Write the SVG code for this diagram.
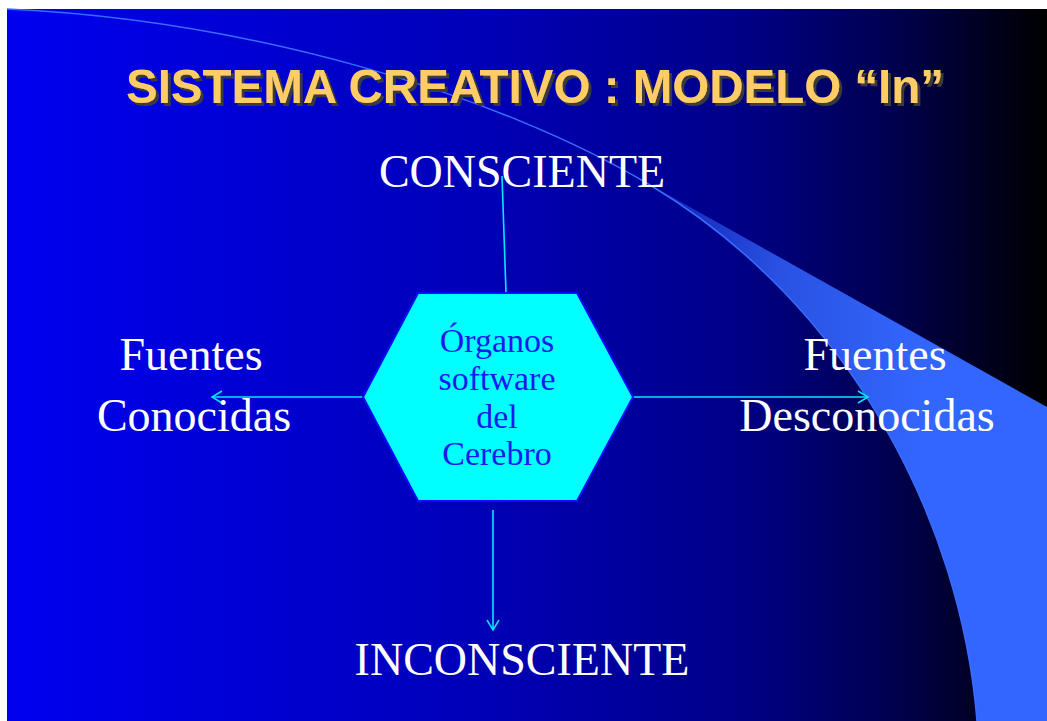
<svg xmlns="http://www.w3.org/2000/svg" width="1047" height="721" viewBox="0 0 1047 721">
  <defs>
    <linearGradient id="bg" x1="7" y1="0" x2="1047" y2="0" gradientUnits="userSpaceOnUse">
      <stop offset="0" stop-color="#0000f0"/>
      <stop offset="0.45" stop-color="#0000b8"/>
      <stop offset="0.7" stop-color="#000088"/>
      <stop offset="0.85" stop-color="#000050"/>
      <stop offset="1" stop-color="#000000"/>
    </linearGradient>
    <linearGradient id="swoosh" x1="640" y1="0" x2="920" y2="0" gradientUnits="userSpaceOnUse">
      <stop offset="0" stop-color="#3366ff" stop-opacity="0.25"/>
      <stop offset="0.5" stop-color="#3366ff" stop-opacity="0.8"/>
      <stop offset="1" stop-color="#3366ff" stop-opacity="1"/>
    </linearGradient>
    <filter id="shadow" x="-5%" y="-20%" width="110%" height="140%">
      <feDropShadow dx="3" dy="3" stdDeviation="0.3" flood-color="#3a3a3a" flood-opacity="1"/>
    </filter>
    <marker id="arr" markerWidth="14" markerHeight="14" refX="11" refY="7" orient="auto" markerUnits="userSpaceOnUse">
      <path d="M1,1 L11,7 L1,13" fill="none" stroke="#00e8ff" stroke-width="1.5"/>
    </marker>
    <style>
      .title { font-family: "Liberation Sans", Arial, sans-serif; font-weight: bold; font-size: 47.5px; text-anchor: middle; fill: #ffcc66; }
      .lbl { font-family: "Liberation Serif", "Times New Roman", serif; font-size: 46px; fill: #ffffff; text-anchor: middle; }
      .hex-txt { font-family: "Liberation Serif", "Times New Roman", serif; font-size: 34px; fill: #1a1aee; text-anchor: middle; }
      .conn { stroke: #00e8ff; stroke-width: 1.6; fill: none; }
    </style>
  </defs>

  <rect x="0" y="0" width="1047" height="721" fill="#ffffff"/>
  <rect x="7" y="9" width="1040" height="712" fill="url(#bg)"/>

  <g id="swoosh-deco">
    <path d="M647,183 L1047,407 L1047,721 L977,721 C961,521 850,305 647,183 Z" fill="url(#swoosh)"/>
    <path d="M7,9 C250,20 500,95 650,185 C850,305 961,521 977,721" fill="none" stroke="#3a6cff" stroke-width="1.5"/>
  </g>

  <g id="title">
    <text class="title" x="535" y="103" filter="url(#shadow)">SISTEMA CREATIVO : MODELO “In”</text>
  </g>

  <g id="connectors">
    <line class="conn" x1="502" y1="176" x2="506" y2="293"/>
    <line class="conn" x1="363" y1="397" x2="212" y2="397" marker-end="url(#arr)"/>
    <line class="conn" x1="633" y1="397" x2="868" y2="397" marker-end="url(#arr)"/>
    <line class="conn" x1="493" y1="510" x2="493" y2="630" marker-end="url(#arr)"/>
  </g>

  <g id="node-consciente">
    <text class="lbl" x="522" y="187">CONSCIENTE</text>
  </g>

  <g id="node-fuentes-conocidas">
    <text class="lbl" x="191" y="370">Fuentes</text>
    <text class="lbl" x="194" y="431">Conocidas</text>
  </g>

  <g id="node-fuentes-desconocidas">
    <text class="lbl" x="875" y="370">Fuentes</text>
    <text class="lbl" x="867" y="431">Desconocidas</text>
  </g>

  <g id="node-inconsciente">
    <text class="lbl" x="522" y="675">INCONSCIENTE</text>
  </g>

  <g id="node-organos">
    <polygon points="418,293 577,293 633,397 577,501 418,501 363,397" fill="#00ffff" stroke="#0a0aff" stroke-width="2"/>
    <text class="hex-txt" x="497" y="352">Órganos</text>
    <text class="hex-txt" x="497" y="390">software</text>
    <text class="hex-txt" x="497" y="428">del</text>
    <text class="hex-txt" x="497" y="465">Cerebro</text>
  </g>
</svg>
